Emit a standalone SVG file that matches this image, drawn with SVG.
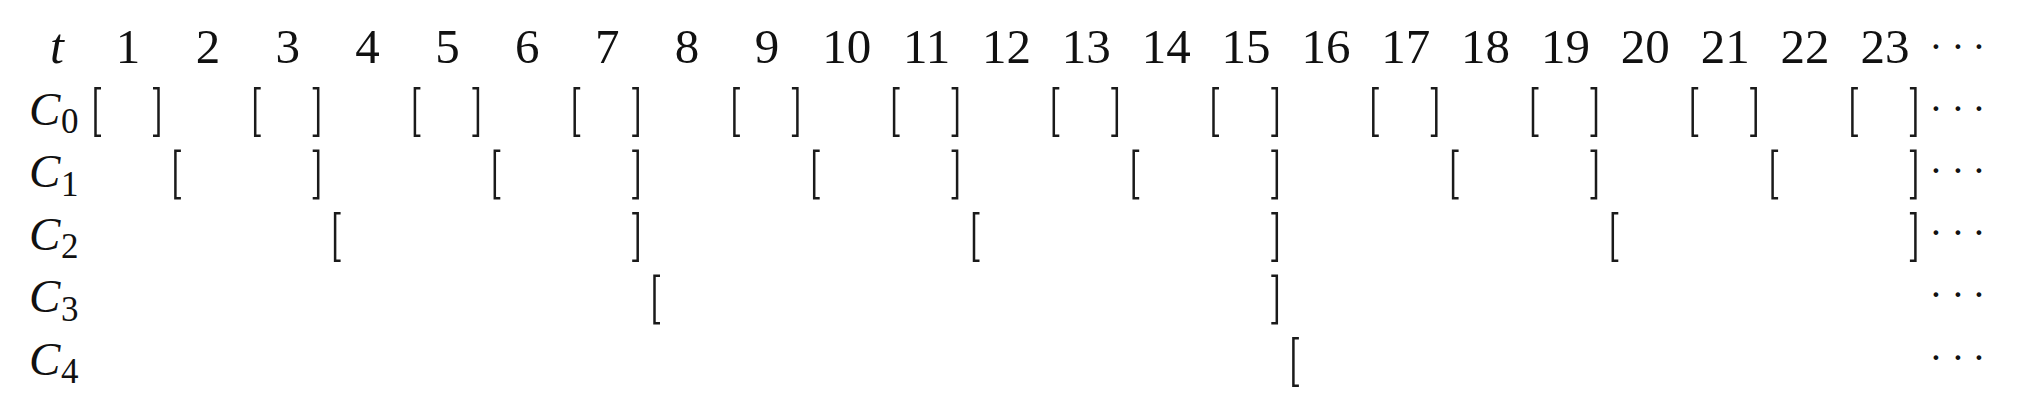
<svg xmlns="http://www.w3.org/2000/svg" xmlns:xlink="http://www.w3.org/1999/xlink" width="2031" height="400" viewBox="0 0 2031 400">
<style>
  .num { font-family: "Liberation Serif", "DejaVu Serif", serif; font-size: 49px; fill: #111; text-anchor: middle; }
  .it { font-family: "Liberation Serif", "DejaVu Serif", serif; font-style: italic; font-size: 50px; fill: #111; }
  .cal { font-family: "Liberation Serif", "DejaVu Serif", serif; font-style: italic; font-size: 47px; fill: #111; }
  .sub { font-family: "Liberation Serif", "DejaVu Serif", serif; font-style: normal; font-size: 35px; fill: #111; }
  .dots { font-family: "Liberation Serif", "DejaVu Serif", serif; font-size: 40px; fill: #111; text-anchor: middle; }
  .br { fill: none; stroke: #1a1a1a; stroke-width: 2.5; stroke-linejoin: miter; stroke-linecap: butt; }
</style>
<defs>
  <path id="lb" class="br" d="M5.5,1.2 H0 V48.8 H5.5"/>
  <path id="rb" class="br" d="M-5.5,1.2 H0 V48.8 H-5.5"/>
</defs>
<rect width="2031" height="400" fill="#ffffff"/>

<g id="header">
  <text class="it" x="50" y="63">t</text>
  <text class="num" y="63"><tspan x="128">1</tspan><tspan x="207.9">2</tspan><tspan x="287.7">3</tspan><tspan x="367.6">4</tspan><tspan x="447.4">5</tspan><tspan x="527.3">6</tspan><tspan x="607.2">7</tspan><tspan x="687">8</tspan><tspan x="766.9">9</tspan><tspan x="846.7">10</tspan><tspan x="926.6">11</tspan><tspan x="1006.5">12</tspan><tspan x="1086.3">13</tspan><tspan x="1166.2">14</tspan><tspan x="1246">15</tspan><tspan x="1325.9">16</tspan><tspan x="1405.8">17</tspan><tspan x="1485.6">18</tspan><tspan x="1565.5">19</tspan><tspan x="1645.3">20</tspan><tspan x="1725.2">21</tspan><tspan x="1805.1">22</tspan><tspan x="1884.9">23</tspan></text>
  <text class="dots" x="1936 1958 1979" y="60.2">···</text>
</g>

<g id="row-C0">
  <text class="cal" x="29" y="124.5">C<tspan class="sub" x="61" y="133">0</tspan></text>
  <use xlink:href="#lb" x="95.5" y="87"/><use xlink:href="#rb" x="158.5" y="87"/>
  <use xlink:href="#lb" x="255.2" y="87"/><use xlink:href="#rb" x="318.2" y="87"/>
  <use xlink:href="#lb" x="414.9" y="87"/><use xlink:href="#rb" x="477.9" y="87"/>
  <use xlink:href="#lb" x="574.7" y="87"/><use xlink:href="#rb" x="637.7" y="87"/>
  <use xlink:href="#lb" x="734.4" y="87"/><use xlink:href="#rb" x="797.4" y="87"/>
  <use xlink:href="#lb" x="894.1" y="87"/><use xlink:href="#rb" x="957.1" y="87"/>
  <use xlink:href="#lb" x="1053.8" y="87"/><use xlink:href="#rb" x="1116.8" y="87"/>
  <use xlink:href="#lb" x="1213.5" y="87"/><use xlink:href="#rb" x="1276.8" y="87"/>
  <use xlink:href="#lb" x="1373.3" y="87"/><use xlink:href="#rb" x="1436.3" y="87"/>
  <use xlink:href="#lb" x="1533" y="87"/><use xlink:href="#rb" x="1596" y="87"/>
  <use xlink:href="#lb" x="1692.7" y="87"/><use xlink:href="#rb" x="1755.7" y="87"/>
  <use xlink:href="#lb" x="1852.4" y="87"/><use xlink:href="#rb" x="1915.4" y="87"/>
  <text class="dots" x="1936 1958 1979" y="122.2">···</text>
</g>

<g id="row-C1">
  <text class="cal" x="29" y="187">C<tspan class="sub" x="61" y="195.5">1</tspan></text>
  <use xlink:href="#lb" x="175.4" y="149.5"/><use xlink:href="#rb" x="318.2" y="149.5"/>
  <use xlink:href="#lb" x="494.8" y="149.5"/><use xlink:href="#rb" x="637.7" y="149.5"/>
  <use xlink:href="#lb" x="814.2" y="149.5"/><use xlink:href="#rb" x="957.1" y="149.5"/>
  <use xlink:href="#lb" x="1133.7" y="149.5"/><use xlink:href="#rb" x="1276.8" y="149.5"/>
  <use xlink:href="#lb" x="1453.1" y="149.5"/><use xlink:href="#rb" x="1596" y="149.5"/>
  <use xlink:href="#lb" x="1772.6" y="149.5"/><use xlink:href="#rb" x="1915.4" y="149.5"/>
  <text class="dots" x="1936 1958 1979" y="183.5">···</text>
</g>

<g id="row-C2">
  <text class="cal" x="29" y="249.5">C<tspan class="sub" x="61" y="258">2</tspan></text>
  <use xlink:href="#lb" x="335.1" y="212"/><use xlink:href="#rb" x="637.7" y="212"/>
  <use xlink:href="#lb" x="974" y="212"/><use xlink:href="#rb" x="1276.8" y="212"/>
  <use xlink:href="#lb" x="1612.8" y="212"/><use xlink:href="#rb" x="1915.4" y="212"/>
  <text class="dots" x="1936 1958 1979" y="246.2">···</text>
</g>

<g id="row-C3">
  <text class="cal" x="29" y="312">C<tspan class="sub" x="61" y="320.5">3</tspan></text>
  <use xlink:href="#lb" x="654.5" y="274.5"/><use xlink:href="#rb" x="1276.8" y="274.5"/>
  <text class="dots" x="1936 1958 1979" y="308">···</text>
</g>

<g id="row-C4">
  <text class="cal" x="29" y="374.5">C<tspan class="sub" x="61" y="383">4</tspan></text>
  <use xlink:href="#lb" x="1293.4" y="337"/>
  <text class="dots" x="1936 1958 1979" y="371">···</text>
</g>
</svg>
